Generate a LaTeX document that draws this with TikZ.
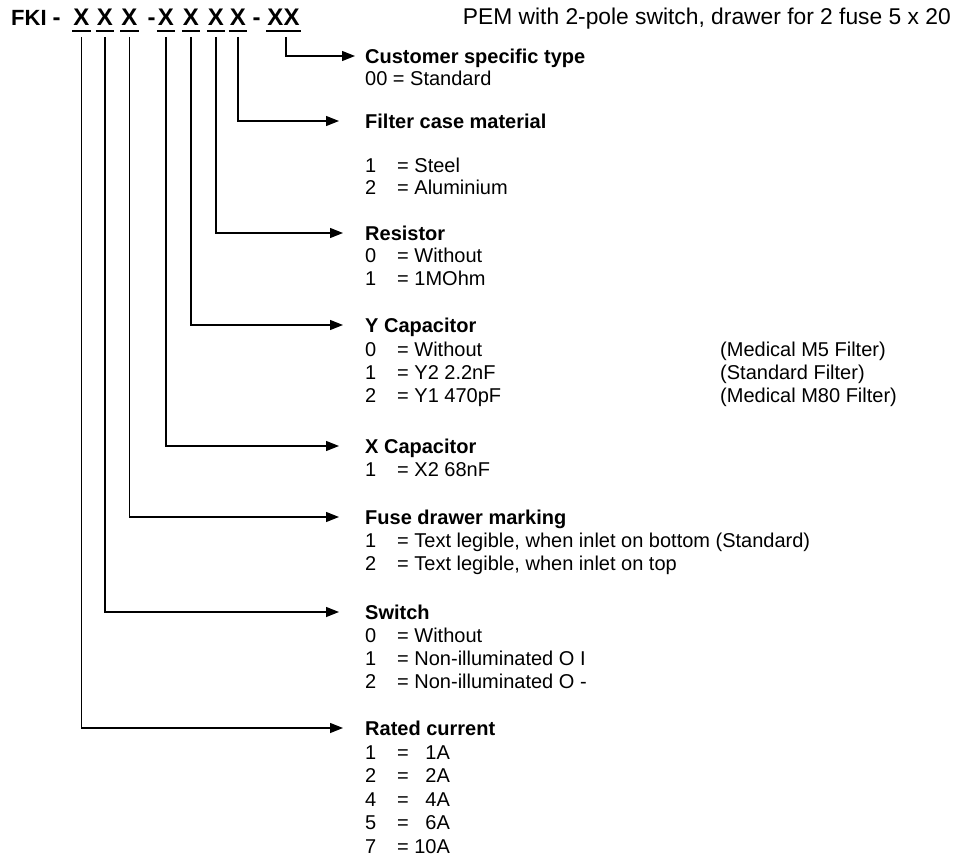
\documentclass[tikz,border=0pt]{standalone}
\usepackage{fontspec}
\setmainfont{Liberation Sans}
\usetikzlibrary{arrows.meta}
\newcommand\itm[2]{\makebox[32pt][l]{#1}= #2}
\newcommand\cur[2]{\makebox[32pt][l]{#1}=\makebox[41pt][r]{#2}}
\begin{document}
\begin{tikzpicture}[x=1pt,y=-1pt,
  conn/.style={draw, line width=1.4pt, -{Triangle[length=13pt,width=10pt]}},
  uline/.style={line width=2.4pt},
  hx/.style={font=\fontsize{24}{24}\bfseries\selectfont, inner sep=0pt, anchor=base},
  hdesc/.style={font=\fontsize{22.8}{24}\selectfont, inner sep=0pt, anchor=base east},
  head/.style={font=\fontsize{20}{24}\bfseries\selectfont, inner sep=0pt, anchor=west, text height=14.5pt, text depth=0pt},
  item/.style={font=\fontsize{20}{24}\selectfont, inner sep=0pt, anchor=west, text height=14.5pt, text depth=0pt}]
\useasboundingbox (0,0) rectangle (956,856);
% header
\node[hx, anchor=base west, font=\fontsize{22}{22}\bfseries\selectfont] (fki) at (11,26) {FKI};
\node[hx] (d1) at (56.5,26) {-};
\node[hx] (x1) at (81.5,26) {X};
\node[hx] (x2) at (105,26) {X};
\node[hx] (x3) at (129.5,26) {X};
\node[hx] (d2) at (151.5,26) {-};
\node[hx] (x4) at (166,26) {X};
\node[hx] (x5) at (191,26) {X};
\node[hx] (x6) at (216,26) {X};
\node[hx] (x7) at (238,26) {X};
\node[hx] (d3) at (256.5,26) {-};
\node[hx] (x8) at (283.5,26) {XX};
\foreach \n in {x1,x2,x3,x4,x5,x6,x7,x8}
  \draw[uline] ([xshift=-1pt,yshift=-5pt]\n.base west) -- ([xshift=1pt,yshift=-5pt]\n.base east);
\node[hdesc] (desc) at (951,25) {PEM with 2-pole switch, drawer for 2 fuse 5 x 20};
% groups
\node[head] (hcust) at (365,56) {Customer specific type};
\node[item] (c0) at (365,78) {00 = Standard};

\node[head] (hfilt) at (365,121) {Filter case material};
\node[item] (f1) at (365,165) {\itm{1}{Steel}};
\node[item] (f2) at (365,187) {\itm{2}{Aluminium}};

\node[head] (hres) at (365,233) {Resistor};
\node[item] (r0) at (365,255) {\itm{0}{Without}};
\node[item] (r1) at (365,278) {\itm{1}{1MOhm}};

\node[head] (hy) at (365,325) {Y Capacitor};
\node[item] (y0) at (365,349) {\itm{0}{Without}};
\node[item] (y1) at (365,372) {\itm{1}{Y2 2.2nF}};
\node[item] (y2) at (365,395) {\itm{2}{Y1 470pF}};
\node[item] (y0n) at (720,349) {(Medical M5 Filter)};
\node[item] (y1n) at (720,372) {(Standard Filter)};
\node[item] (y2n) at (720,395) {(Medical M80 Filter)};

\node[head] (hx) at (365,446) {X Capacitor};
\node[item] (xc1) at (365,469) {\itm{1}{X2 68nF}};

\node[head] (hfuse) at (365,517) {Fuse drawer marking};
\node[item] (fu1) at (365,540) {\itm{1}{Text legible, when inlet on bottom (Standard)}};
\node[item] (fu2) at (365,563) {\itm{2}{Text legible, when inlet on top}};

\node[head] (hsw) at (365,612) {Switch};
\node[item] (s0) at (365,635) {\itm{0}{Without}};
\node[item] (s1) at (365,658) {\itm{1}{Non-illuminated O I}};
\node[item] (s2) at (365,681) {\itm{2}{Non-illuminated O -}};

\node[head] (hrat) at (365,728) {Rated current};
\node[item] (a1) at (365,752) {\cur{1}{1A}};
\node[item] (a2) at (365,775) {\cur{2}{2A}};
\node[item] (a4) at (365,799) {\cur{4}{4A}};
\node[item] (a5) at (365,822) {\cur{5}{6A}};
\node[item] (a7) at (365,846) {\cur{7}{10A}};
% connectors
\draw[conn] ([xshift=2.5pt,yshift=-11pt]x8.base) |- ([xshift=-10pt]hcust.west);
\draw[conn] ([yshift=-11pt]x7.base) |- ([xshift=-26pt]hfilt.west);
\draw[conn] ([yshift=-11pt]x6.base) |- ([xshift=-22pt]hres.west);
\draw[conn] ([yshift=-11pt]x5.base) |- ([xshift=-22pt]hy.west);
\draw[conn] ([yshift=-11pt]x4.base) |- ([xshift=-26pt]hx.west);
\draw[conn] ([yshift=-11pt]x3.base) |- ([xshift=-26pt]hfuse.west);
\draw[conn] ([yshift=-11pt]x2.base) |- ([xshift=-26pt]hsw.west);
\draw[conn] ([yshift=-11pt]x1.base) |- ([xshift=-22pt]hrat.west);
\end{tikzpicture}
\end{document}
